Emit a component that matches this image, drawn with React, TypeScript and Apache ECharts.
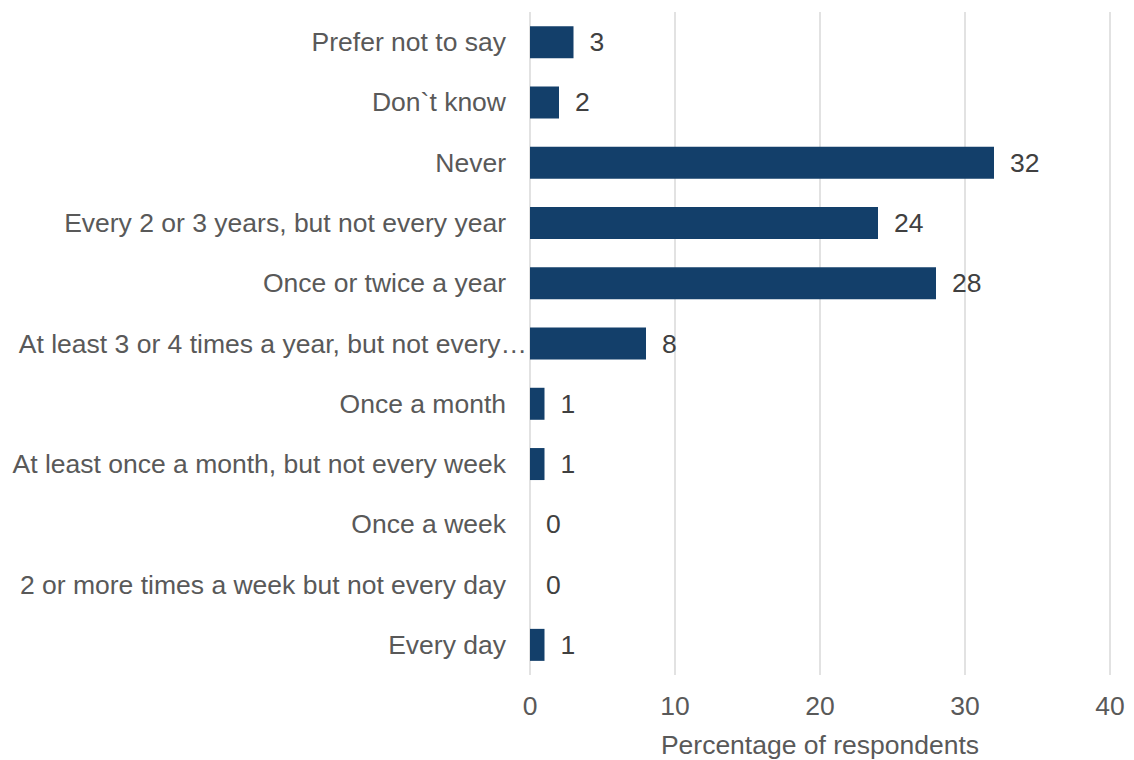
import React, { useEffect, useRef } from "react";
import * as echarts from "echarts";

const categories = [
  "Prefer not to say",
  "Don`t know",
  "Never",
  "Every 2 or 3 years, but not every year",
  "Once or twice a year",
  "At least 3 or 4 times a year, but not every…",
  "Once a month",
  "At least once a month, but not every week",
  "Once a week",
  "2 or more times a week but not every day",
  "Every day",
];
const values = [3, 2, 32, 24, 28, 8, 1, 1, 0, 0, 1];
const xTicks = { min: 0, max: 40, interval: 10 };
const xAxisTitle = "Percentage of respondents";
const truncatedCategory = "At least 3 or 4 times a year, but not every…";

export default function App() {
  const ref = useRef<HTMLDivElement>(null);
  useEffect(() => {
    const chart = echarts.init(ref.current!, null, { renderer: "svg" });
    const font = "'Liberation Sans', Arial, sans-serif";
    chart.setOption({
      animation: false,
      textStyle: { fontFamily: font },
      grid: {
        left: 530,
        right: 24,
        top: 12,
        bottom: 85,
        containLabel: false,
        outerBoundsMode: "none",
      },
      xAxis: {
        type: "value",
        min: xTicks.min,
        max: xTicks.max,
        interval: xTicks.interval,
        axisLine: { show: false },
        axisTick: { show: false },
        splitLine: { show: true, lineStyle: { color: "#d9d9d9", width: 1.5 } },
        axisLabel: { color: "#595959", fontSize: 26.5, margin: 17, fontFamily: font },
        name: xAxisTitle,
        nameLocation: "middle",
        nameGap: 56,
        nameTextStyle: { color: "#595959", fontSize: 26.5, fontFamily: font },
      },
      yAxis: {
        type: "category",
        data: categories.map((c) =>
          c === truncatedCategory
            ? { value: c, textStyle: { padding: [0, -21, 0, 0] } }
            : c
        ),
        inverse: true,
        axisLine: { show: false },
        axisTick: { show: false },
        axisLabel: { color: "#595959", fontSize: 26.5, margin: 24, fontFamily: font },
      },
      series: [
        {
          type: "bar",
          data: values,
          barWidth: 32,
          itemStyle: { color: "#133F6A" },
          label: {
            show: true,
            position: "right",
            distance: 16,
            color: "#404040",
            fontSize: 26.5,
            fontFamily: font,
          },
        },
      ],
    });
    return () => chart.dispose();
  }, []);
  return (
    <div
      ref={ref}
      style={{ position: "fixed", left: 0, top: 0, width: 1134, height: 760, background: "#fff" }}
    />
  );
}
